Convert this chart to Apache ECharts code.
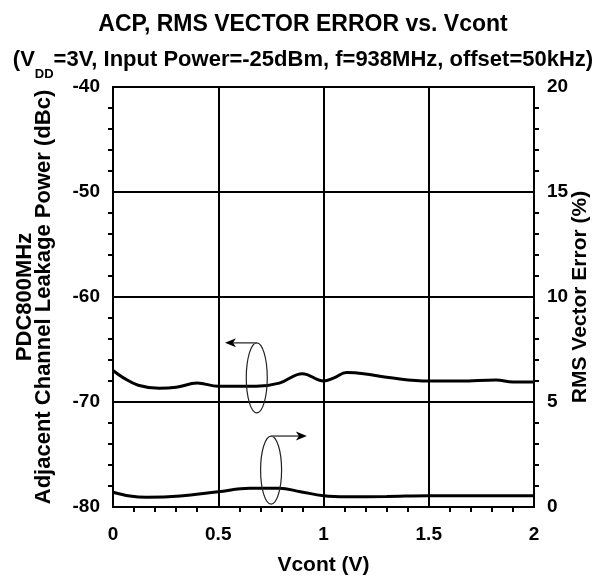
<!DOCTYPE html>
<html><head><meta charset="utf-8">
<script src="https://cdn.jsdelivr.net/npm/echarts@6/dist/echarts.min.js"></script>
<style>html,body{margin:0;padding:0;background:#fff}#c{width:606px;height:581px}</style>
</head><body><div id="c"></div>
<script>
// Data
var acpX = [0, 0.05, 0.12, 0.22, 0.30, 0.40, 0.50, 0.60, 0.68, 0.79, 0.90, 1.00, 1.05, 1.11, 1.19, 1.32, 1.50, 1.65, 1.82, 1.90, 2.00];
var acpY = [-67.0, -67.7, -68.4, -68.7, -68.6, -68.2, -68.5, -68.5, -68.5, -68.2, -67.3, -68.0, -67.7, -67.2, -67.3, -67.7, -68.0, -68.0, -67.9, -68.1, -68.1];
var rmsX = [0, 0.08, 0.16, 0.32, 0.50, 0.65, 0.79, 0.89, 1.00, 1.11, 1.30, 1.50, 1.75, 2.00];
var rmsY = [0.70, 0.52, 0.46, 0.52, 0.73, 0.89, 0.89, 0.73, 0.54, 0.49, 0.50, 0.54, 0.54, 0.54];
var xTicks = {min: 0, max: 2, interval: 0.5};
var leftTicks = {min: -80, max: -40, interval: 10};
var rightTicks = {min: 0, max: 20, interval: 5};

function pairs(xs, ys){ return xs.map(function(x,i){return [x, ys[i]];}); }

var FONT = 'Liberation Sans, Arial, sans-serif';
var TICK = 19, NAME = 21;
var chart = echarts.init(document.getElementById('c'));
var axisCommon = {
  axisLine: {show: true, lineStyle: {color: '#000', width: 2}},
  axisTick: {show: false},
  minorTick: {show: true, splitNumber: 5, length: 5, lineStyle: {color: '#000', width: 2}},
  nameTextStyle: {color: '#000', fontFamily: FONT, fontWeight: 'bold', fontSize: NAME}
};
function ax(extra){ var o = JSON.parse(JSON.stringify(axisCommon)); for (var k in extra) o[k] = extra[k]; return o; }

var opt = {
  animation: false,
  title: [{
    text: 'ACP, RMS VECTOR ERROR vs. Vcont',
    left: 'center', top: 8,
    textStyle: {fontFamily: FONT, fontWeight: 'bold', fontSize: 23, color: '#000'}
  }, {
    text: '(V{sub|DD}=3V, Input Power=-25dBm, f=938MHz, offset=50kHz)',
    left: 'center', top: 44,
    textStyle: {fontFamily: FONT, fontWeight: 'bold', fontSize: 22, color: '#000',
      rich: {sub: {fontFamily: FONT, fontWeight: 'bold', fontSize: 13, color: '#000', verticalAlign: 'bottom', lineHeight: 12, padding: [0,0,-10,0]}}}
  }],
  grid: {left: 113, right: 72, top: 87, bottom: 74, containLabel: false, outerBoundsMode: 'none',
    show: true, borderColor: '#000', borderWidth: 2, backgroundColor: 'transparent'},
  xAxis: ax({
    type: 'value', min: xTicks.min, max: xTicks.max, interval: xTicks.interval,
    name: 'Vcont (V)', nameLocation: 'middle', nameGap: 48,
    splitLine: {show: true, lineStyle: {color: '#000', width: 2}},
    axisLabel: {color: '#000', fontFamily: FONT, fontWeight: 'bold', fontSize: TICK, margin: 18,
      formatter: function(v){ return String(v); }}
  }),
  yAxis: [ax({
    type: 'value', min: leftTicks.min, max: leftTicks.max, interval: leftTicks.interval, position: 'left',
    name: 'PDC800MHz\nAdjacent Channel Leakage Power (dBc)', nameLocation: 'middle', nameGap: 60, nameRotate: 90,
    nameTextStyle: {color: '#000', fontFamily: FONT, fontWeight: 'bold', fontSize: 22, lineHeight: 19},
    splitLine: {show: true, lineStyle: {color: '#000', width: 2}},
    axisLabel: {color: '#000', fontFamily: FONT, fontWeight: 'bold', fontSize: TICK, margin: 13}
  }), ax({
    type: 'value', min: rightTicks.min, max: rightTicks.max, interval: rightTicks.interval, position: 'right',
    name: 'RMS Vector Error (%)', nameLocation: 'middle', nameGap: 36, nameRotate: 90, nameMoveOverlap: false,
    splitLine: {show: false},
    axisLabel: {color: '#000', fontFamily: FONT, fontWeight: 'bold', fontSize: TICK, margin: 13}
  })],
  series: [{
    type: 'line', yAxisIndex: 0, data: pairs(acpX, acpY), smooth: 0.4, showSymbol: false,
    lineStyle: {color: '#000', width: 3}
  }, {
    type: 'line', yAxisIndex: 1, data: pairs(rmsX, rmsY), smooth: 0.4, showSymbol: false,
    lineStyle: {color: '#000', width: 3}
  }]
};
chart.setOption(opt);

// Annotations (ellipse + arrow) positioned through the axes
function px(x, y, yi){ return chart.convertToPixel({xAxisIndex: 0, yAxisIndex: yi}, [x, y]); }
function annot(cxv, cyv, yi, rx, ry, toXv, dir){
  var c = px(cxv, cyv, yi);
  var topY = c[1] - ry;
  var end = px(toXv, cyv, yi)[0];
  var head = 11, hw = 4.5;
  var tipX = end, baseX = end - dir * head;
  return [
    {type: 'ellipse', shape: {cx: c[0], cy: c[1], rx: rx, ry: ry}, style: {fill: 'none', stroke: '#222', lineWidth: 1.2}, z: 100},
    {type: 'line', shape: {x1: c[0], y1: topY, x2: baseX + dir * 3, y2: topY}, style: {stroke: '#555', lineWidth: 1.6}, z: 100},
    {type: 'polygon', shape: {points: [[tipX, topY], [baseX, topY - hw], [baseX + dir * 3, topY], [baseX, topY + hw]]}, style: {fill: '#000'}, z: 101}
  ];
}
var g = [].concat(
  annot(0.683, -67.7, 0, 10.5, 35, 0.532, -1),
  annot(0.751, 1.76, 1, 10.5, 34, 0.921, 1)
);
chart.setOption({graphic: g});
</script></body></html>
